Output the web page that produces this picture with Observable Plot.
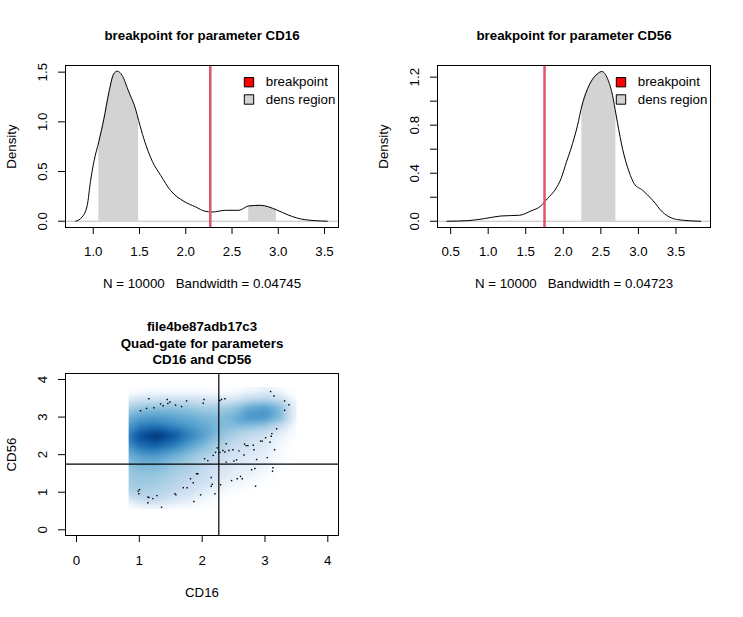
<!DOCTYPE html>
<html><head><meta charset="utf-8">
<script src="https://cdn.jsdelivr.net/npm/d3@7"></script>
<script src="https://cdn.jsdelivr.net/npm/@observablehq/plot@0.6"></script>
<style>
body{margin:0;background:#fff;}
#root{position:relative;width:743px;height:617px;background:#fff;overflow:hidden;}
#root svg{position:absolute;}
svg text{white-space:pre;}
</style></head><body><div id="root"></div>
<script>
const FONT = '"Liberation Sans", Arial, Helvetica, sans-serif';

// ---- Panel 1: CD16 density ----
const cd16Title = "breakpoint for parameter CD16";
const cd16Sub = "N = 10000   Bandwidth = 0.04745";
const cd16X = [0.81,0.88,0.935,0.97,1.007,1.06,1.115,1.17,1.22,1.26,1.31,1.385,1.457,1.49,1.547,1.64,1.73,1.835,1.98,2.105,2.21,2.286,2.43,2.574,2.68,2.81,2.98,3.115,3.28,3.53];
const cd16Y = [0,0.043,0.16,0.40,0.60,0.80,1.03,1.30,1.48,1.51,1.47,1.30,1.13,1.015,0.83,0.60,0.46,0.31,0.20,0.145,0.10,0.093,0.11,0.11,0.154,0.16,0.115,0.06,0.017,0];
const cd16Regions = [[1.06,1.49],[2.68,2.98]];
const cd16Breakpoint = 2.265;
const cd16XTicks = [1,1.5,2,2.5,3,3.5];
const cd16YTicks = [0,0.5,1,1.5];
const cd16YLabels = [0,0.5,1,1.5];

// ---- Panel 2: CD56 density ----
const cd56Title = "breakpoint for parameter CD56";
const cd56Sub = "N = 10000   Bandwidth = 0.04723";
const cd56X = [0.45,0.727,0.95,1.17,1.416,1.57,1.70,1.79,1.90,1.97,2.04,2.10,2.19,2.247,2.28,2.367,2.456,2.513,2.59,2.656,2.70,2.72,2.79,2.877,2.944,3.056,3.19,3.32,3.52,3.83];
const cd56Y = [0,0.005,0.022,0.044,0.05,0.086,0.127,0.19,0.27,0.355,0.49,0.60,0.80,0.96,1.03,1.16,1.228,1.247,1.186,1.047,0.895,0.825,0.60,0.41,0.313,0.258,0.175,0.077,0.014,0];
const cd56Regions = [[2.247,2.70]];
const cd56Breakpoint = 1.75;
const cd56XTicks = [0.5,1,1.5,2,2.5,3,3.5];
const cd56YTicks = [0,0.2,0.4,0.6,0.8,1.0,1.2];
const cd56YLabels = [0,0.4,0.8,1.2];

const legendLabels = ["breakpoint","dens region"];
const legendFills = ["#FF0000","#D3D3D3"];

// ---- Panel 3: smooth scatter ----
const scatterTitle = "file4be87adb17c3\nQuad-gate for parameters\nCD16 and CD56";
const gridX = [0.83,1.0,1.25,1.5,1.75,2.0,2.25,2.5,2.75,3.0,3.25,3.5];
const gridY = [3.8,3.5,3.25,3.0,2.75,2.5,2.25,2.0,1.75,1.5,1.25,1.0,0.75,0.55];
const densRows = [
  [0,0,0,0,0,0,0,0,0.08,0.15,0.08,0],
  [0.2,0.26,0.28,0.28,0.28,0.26,0.24,0.24,0.32,0.34,0.28,0.08],
  [0.4,0.46,0.48,0.48,0.46,0.43,0.42,0.46,0.58,0.62,0.5,0.16],
  [0.54,0.6,0.62,0.6,0.56,0.52,0.5,0.54,0.66,0.66,0.52,0.14],
  [0.64,0.74,0.78,0.72,0.65,0.58,0.52,0.5,0.48,0.44,0.3,0.07],
  [0.72,0.9,1.0,0.9,0.75,0.62,0.5,0.4,0.33,0.27,0.17,0.04],
  [0.66,0.8,0.84,0.76,0.63,0.52,0.42,0.33,0.28,0.22,0.13,0],
  [0.56,0.63,0.65,0.58,0.5,0.42,0.35,0.28,0.23,0.19,0.1,0],
  [0.49,0.53,0.53,0.48,0.43,0.36,0.3,0.23,0.2,0.16,0.06,0],
  [0.45,0.47,0.47,0.43,0.38,0.33,0.26,0.2,0.17,0.12,0,0],
  [0.42,0.45,0.43,0.39,0.34,0.29,0.22,0.15,0.11,0.05,0,0],
  [0.38,0.4,0.38,0.34,0.29,0.22,0.14,0.06,0,0,0,0],
  [0.2,0.3,0.32,0.26,0.2,0.12,0.05,0,0,0,0,0],
  [0,0.06,0.09,0.07,0.04,0,0,0,0,0,0,0]
];
const ptsX = [1.152,1.019,1.115,1.231,1.338,1.38,1.444,1.454,1.486,1.576,1.672,1.752,2.017,2.028,2.282,2.309,2.362,3.089,3.142,3.312,3.381,3.312,
  2.24,2.213,2.282,2.33,2.383,2.362,2.426,2.489,2.585,2.665,2.675,2.70,2.728,2.824,2.813,2.93,2.956,3.01,3.079,3.10,3.11,3.185,3.153,3.036,2.866,2.84,2.787,3.126,3.12,2.383,2.505,2.548,2.038,2.09,2.176,
  1.91,1.93,1.858,1.815,1.762,1.70,1.868,1.975,2.144,2.16,2.144,2.203,2.293,2.468,2.558,2.611,2.638,2.85,1.566,1.582,1.003,0.982,0.993,1.136,1.152,1.215,1.279,1.136,1.354];
const ptsY = [3.49,3.17,3.23,3.25,3.35,3.30,3.47,3.36,3.40,3.32,3.28,3.43,3.37,3.47,3.44,3.47,3.49,3.68,3.56,3.43,3.33,3.18,
  2.18,2.06,2.06,2.11,2.29,2.07,2.11,2.13,2.10,1.99,2.28,2.24,2.24,2.13,2.25,2.36,2.36,2.45,2.33,2.49,2.56,2.69,2.13,1.92,1.87,1.63,1.60,1.65,1.56,1.80,1.83,1.86,1.89,1.84,1.98,
  1.49,1.49,1.25,1.36,1.12,1.12,0.755,0.93,1.39,1.21,1.16,0.96,1.20,1.31,1.36,1.42,1.36,1.16,0.96,0.93,1.07,1.03,0.96,0.87,0.86,0.83,0.91,0.72,0.60];
const scatterTicks = [0,1,2,3,4];
const blues = ["#FFFFFF","#F7FBFF","#DEEBF7","#C6DBEF","#9ECAE1","#6BAED6","#4292C6","#2171B5","#08519C","#08306B"];

const root = document.getElementById("root");
const style = {fontFamily: FONT, fontSize: "13.3px", color: "black", background: "transparent", overflow: "visible"};

function densityPanel(o) {
  const pts = o.xs.map((x, i) => ({x, y: o.ys[i]}));
  const fmt = d3.format(".1f");
  const marks = [];
  for (const [a, b] of o.regions) {
    marks.push(Plot.areaY(pts.filter(d => d.x >= a - 1e-9 && d.x <= b + 1e-9), {x: "x", y: "y", fill: "#D3D3D3", curve: "monotone-x"}));
  }
  marks.push(
    Plot.ruleY([0], {stroke: "#BEBEBE", strokeWidth: 1}),
    Plot.line(pts, {x: "x", y: "y", stroke: "black", strokeWidth: 1, curve: "monotone-x"}),
    Plot.ruleX([o.bp], {stroke: "#DF536B", strokeWidth: 2.5}),
    Plot.frame({stroke: "black"}),
    Plot.axisX({ticks: o.xTicks, tickSize: 7, tickPadding: 12, tickFormat: fmt, label: null}),
    Plot.axisY({ticks: o.yTicks, tickSize: 7, tickFormat: () => "", label: null}),
    Plot.text(o.yLabels, {y: d => d, text: d => fmt(d), frameAnchor: "left", dx: -23, rotate: -90, textAnchor: "middle", lineAnchor: "middle"}),
    Plot.text(["Density"], {frameAnchor: "left", dx: -54, rotate: -90, textAnchor: "middle", lineAnchor: "middle"}),
    Plot.text([o.title], {frameAnchor: "top", dy: -30, fontWeight: "bold", lineAnchor: "middle"}),
    Plot.text([o.sub], {frameAnchor: "bottom", dy: 56, lineAnchor: "middle"})
  );
  legendLabels.forEach((lab, i) => {
    marks.push(Plot.dot([lab], {frameAnchor: "top-right", dx: -89.5, dy: 16.7 + 17.3 * i, symbol: "square", r: 5.3, fill: legendFills[i], stroke: "black", strokeWidth: 1}));
    marks.push(Plot.text([lab], {frameAnchor: "top-right", dx: -72.7, dy: 16.7 + 17.3 * i, textAnchor: "start", lineAnchor: "middle"}));
  });
  const svg = Plot.plot({
    width: 371, height: 300,
    marginLeft: 65, marginRight: 33, marginTop: 65, marginBottom: 73,
    x: {domain: o.xDomain}, y: {domain: o.yDomain},
    style, marks
  });
  svg.style.left = o.left + "px";
  svg.style.top = "0px";
  root.appendChild(svg);
}

densityPanel({xs: cd16X, ys: cd16Y, regions: cd16Regions, bp: cd16Breakpoint, xTicks: cd16XTicks, yTicks: cd16YTicks, yLabels: cd16YLabels,
  xDomain: [0.70, 3.651], yDomain: [-0.063, 1.567], title: cd16Title, sub: cd16Sub, left: 0});
densityPanel({xs: cd56X, ys: cd56Y, regions: cd56Regions, bp: cd56Breakpoint, xTicks: cd56XTicks, yTicks: cd56YTicks, yLabels: cd56YLabels,
  xDomain: [0.325, 3.96], yDomain: [-0.052, 1.297], title: cd56Title, sub: cd56Sub, left: 372});

// scatter
const grid = [];
gridY.forEach((gy, r) => gridX.forEach((gx, c) => grid.push({x: gx, y: gy, v: densRows[r][c]})));
const pts = ptsX.map((x, i) => ({x, y: ptsY[i]}));
const svg3 = Plot.plot({
  width: 371, height: 317,
  marginLeft: 65, marginRight: 33, marginTop: 73, marginBottom: 82,
  x: {domain: [-0.175, 4.17]}, y: {domain: [-0.152, 4.16]},
  color: {type: "linear", domain: [0, 1], interpolate: d3.piecewise(d3.interpolateRgb, blues)},
  style,
  marks: [
    Plot.raster(grid, {x: "x", y: "y", fill: "v", x1: 0.83, x2: 3.5, y1: 0.55, y2: 3.8, interpolate: "barycentric", blur: 2}),
    Plot.dot(pts, {x: "x", y: "y", r: 0.8, fill: "black", symbol: "square"}),
    Plot.ruleX([cd16Breakpoint], {stroke: "black", strokeWidth: 1.2}),
    Plot.ruleY([cd56Breakpoint], {stroke: "black", strokeWidth: 1.2}),
    Plot.frame({stroke: "black"}),
    Plot.axisX({ticks: scatterTicks, tickSize: 7, tickPadding: 13, tickFormat: d3.format("d"), label: null}),
    Plot.axisY({ticks: scatterTicks, tickSize: 7, tickFormat: () => "", label: null}),
    Plot.text(scatterTicks, {y: d => d, text: d => String(d), frameAnchor: "left", dx: -22.5, rotate: -90, textAnchor: "middle", lineAnchor: "middle"}),
    Plot.text(["CD56"], {frameAnchor: "left", dx: -53.5, rotate: -90, textAnchor: "middle", lineAnchor: "middle"}),
    Plot.text(["CD16"], {frameAnchor: "bottom", dy: 57.5, lineAnchor: "middle"}),
    Plot.text([scatterTitle], {frameAnchor: "top", dy: -31, fontWeight: "bold", lineHeight: 1.22, lineAnchor: "middle"})
  ]
});
svg3.style.left = "0px";
svg3.style.top = "300px";
root.appendChild(svg3);
</script></body></html>
